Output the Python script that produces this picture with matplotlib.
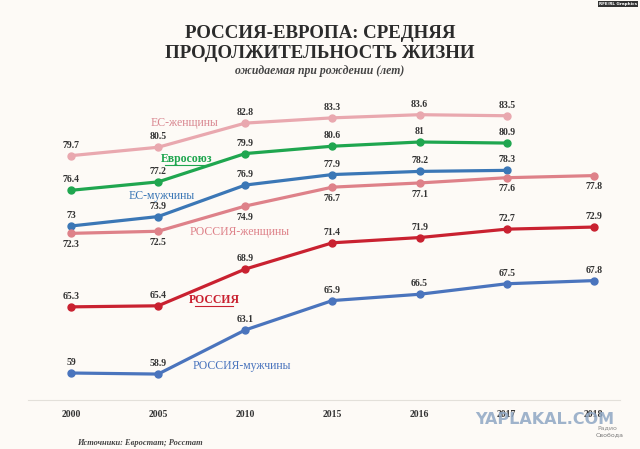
import matplotlib.pyplot as plt

years = ['2000', '2005', '2010', '2015', '2016', '2017', '2018']
eu_women = [79.7, 80.5, 82.8, 83.3, 83.6, 83.5]
eu_all = [76.4, 77.2, 79.9, 80.6, 81, 80.9]
eu_men = [73, 73.9, 76.9, 77.9, 78.2, 78.3]
ru_women = [72.3, 72.5, 74.9, 76.7, 77.1, 77.6, 77.8]
ru_all = [65.3, 65.4, 68.9, 71.4, 71.9, 72.7, 72.9]
ru_men = [59, 58.9, 63.1, 65.9, 66.5, 67.5, 67.8]

bg = '#fdfaf6'
serif = ['Liberation Serif', 'DejaVu Serif']

fig = plt.figure(figsize=(6.4, 4.49), dpi=100, facecolor=bg)
ax = fig.add_axes([28/640, 1-400/449, 592/640, 300/449])
ax.set_facecolor(bg)

# (values, colour, labels below points?)
series = [
    (eu_women, '#e9a8af', False),
    (eu_all, '#1fa64f', False),
    (eu_men, '#3b77b6', False),
    (ru_women, '#de8189', True),
    (ru_all, '#c92130', False),
    (ru_men, '#4a74bd', False),
]

for vals, col, below in series:
    xs = list(range(len(vals)))
    ax.plot(xs, vals, color=col, lw=2.3, marker='o', ms=5, zorder=3)
    for x, v in zip(xs, vals):
        off = -8 if below else 7.5
        ax.annotate(f'{v:g}', (x, v), xytext=(0, off), textcoords='offset points',
                    ha='center', va='center', fontsize=7, fontweight='bold',
                    color='#333333', family=serif)

# series names: x, y, text, colour, underlined, half-width of underline
names = [
    (1.30, 82.80, 'ЕС-женщины', '#d98891', False, 0),
    (1.33, 79.38, 'Евросоюз', '#1fa64f', True, 0.25),
    (1.04, 75.85, 'ЕС-мужчины', '#3b77b6', False, 0),
    (1.94, 72.42, 'РОССИЯ-женщины', '#de8189', False, 0),
    (1.64, 65.95, 'РОССИЯ', '#c92130', True, 0.22),
    (1.96, 59.66, 'РОССИЯ-мужчины', '#4a74bd', False, 0),
]
for x, y, t, c, u, hw in names:
    ax.text(x, y, t, color=c, fontsize=8.5, ha='center', va='center',
            family=serif, fontweight='bold' if u else 'normal')
    if u:
        ax.plot([x - hw, x + hw], [y - 0.55, y - 0.55], color=c, lw=0.8)

ax.set_xlim(-0.493, 6.30)
ax.set_ylim(56.43, 85)
ax.set_xticks(range(len(years)))
ax.set_xticklabels(years, fontsize=7, fontweight='bold', color='#333333', family=serif)
ax.tick_params(axis='x', length=0, pad=7)
ax.set_yticks([])
for s in ['left', 'right', 'top']:
    ax.spines[s].set_visible(False)
ax.spines['bottom'].set_color('#e3e0da')
ax.spines['bottom'].set_linewidth(0.8)

fig.text(0.5, 1-34/449, 'РОССИЯ-ЕВРОПА: СРЕДНЯЯ', ha='center', va='center',
         fontsize=13.6, fontweight='bold', color='#2b2b2b', family=serif)
fig.text(0.5, 1-53/449, 'ПРОДОЛЖИТЕЛЬНОСТЬ ЖИЗНИ', ha='center', va='center',
         fontsize=13.6, fontweight='bold', color='#2b2b2b', family=serif)
fig.text(0.5, 1-71/449, 'ожидаемая при рождении (лет)', ha='center', va='center',
         fontsize=8.5, fontweight='bold', style='italic', color='#444444', family=serif)
fig.text(77/640, 1-443/449, 'Источники: Евростат; Росстат', ha='left', va='center',
         fontsize=6, style='italic', fontweight='bold', color='#444444', family=serif)
fig.text(637/640, 1-4/449, 'RFE/RL Graphics', ha='right', va='center', fontsize=3,
         color='white', fontweight='bold',
         bbox=dict(boxstyle='square,pad=0.2', fc='#333333', ec='none'))
fig.text(545/640, 1-419/449, 'YAPLAKAL.COM', ha='center', va='center', fontsize=11.5,
         fontweight='bold', color='#8fa7c4', alpha=0.85, family=['DejaVu Sans'])
fig.text(607/640, 1-428/449, 'Радио', ha='center', va='center', fontsize=4.5, color='#888888')
fig.text(610/640, 1-435/449, 'Свобода', ha='center', va='center', fontsize=4.5, color='#777777')

fig.savefig('out.png', dpi=100, facecolor=bg)
